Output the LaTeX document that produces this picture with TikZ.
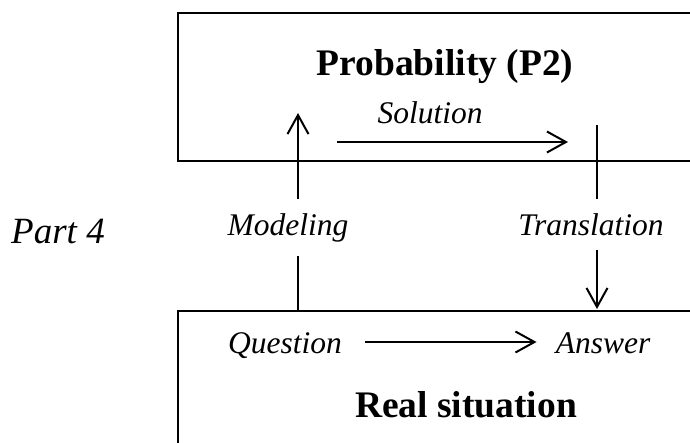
\documentclass[tikz,border=0pt]{standalone}
\usepackage{fontspec}
\setmainfont{Liberation Serif}
\usetikzlibrary{arrows.meta,calc}
\begin{document}
\begin{tikzpicture}[x=1pt,y=1pt,
  boxshape/.style={draw,line width=2.5pt,rectangle,inner sep=0pt},
  titletext/.style={font=\fontsize{37.5}{40}\selectfont\bfseries,anchor=base,inner sep=0pt},
  itext/.style={font=\fontsize{31.5}{34}\selectfont\itshape,anchor=base},
  parttext/.style={font=\fontsize{37}{40}\selectfont\itshape,anchor=base,inner sep=0pt},
  conn/.style={line width=2pt},
  arr/.style={line width=2pt,-{Straight Barb[length=19pt,width=21pt,line width=2pt]}}]
\useasboundingbox (0,0) rectangle (690,-442);
\clip (0,0) rectangle (690,-442);
% boxes
\node[boxshape,minimum width=560pt,minimum height=148pt] (prob) at (458,-87) {};
\node[boxshape,minimum width=560pt,minimum height=170pt] (real) at (458,-396) {};
% titles
\node[titletext] (probt) at (445,-75) {Probability (P2)};
\node[titletext] (realt) at (466,-417) {Real situation};
% labels
\node[parttext] (part) at (58,-243) {Part 4};
\node[itext,inner xsep=0pt,inner ysep=14pt] (model) at (288,-235) {Modeling};
\node[itext,inner xsep=0pt,inner ysep=14pt] (transl) at (591,-235) {Translation};
\node[itext,inner sep=0pt] (sol) at (430,-123) {Solution};
\node[itext,inner sep=0pt] (quest) at (285,-353) {Question};
\node[itext,inner sep=0pt] (answ) at (603,-353) {Answer};
% coordinates for line ends
\coordinate (mbot) at (298,-311);
\coordinate (mtop) at (298,-113);
\coordinate (ttop) at (597,-125);
\coordinate (tbot) at (597,-309);
\coordinate (sa) at (337,-142);
\coordinate (sb) at (568,-142);
% connectors
\draw[conn] (mbot) -- (mbot |- model.south);
\draw[arr] (mbot |- model.north) -- (mtop);
\draw[conn] (ttop) -- (ttop |- transl.north);
\draw[arr] (ttop |- transl.south) -- (tbot);
\draw[arr] (sa) -- (sb);
\draw[arr] ($(quest.base east)+(23,11)$) -- ($(answ.base west)+(-19,11)$);
\end{tikzpicture}
\end{document}
